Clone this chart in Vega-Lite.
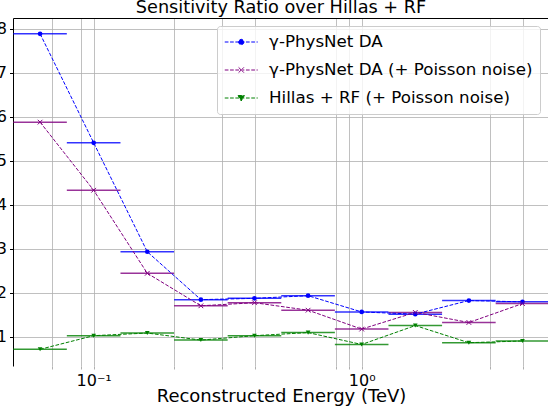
{
  "$schema": "https://vega.github.io/schema/vega-lite/v6.json",
  "width": 536,
  "height": 348,
  "autosize": "none",
  "padding": {"left": 13, "top": 18, "right": 0, "bottom": 44},
  "background": "white",
  "title": {
    "text": "Sensitivity Ratio over Hillas + RF",
    "font": "DejaVu Sans",
    "fontSize": 17.7,
    "fontWeight": "normal",
    "color": "black",
    "anchor": "middle",
    "offset": 1
  },
  "data": {
    "values": [
      {"series": "γ-PhysNet DA", "e": 0.0631, "lo": 0.0501, "hi": 0.0794, "ratio": 7.89},
      {"series": "γ-PhysNet DA", "e": 0.1, "lo": 0.0794, "hi": 0.1259, "ratio": 5.41},
      {"series": "γ-PhysNet DA", "e": 0.1585, "lo": 0.1259, "hi": 0.1995, "ratio": 2.93},
      {"series": "γ-PhysNet DA", "e": 0.2512, "lo": 0.1995, "hi": 0.3162, "ratio": 1.84},
      {"series": "γ-PhysNet DA", "e": 0.3981, "lo": 0.3162, "hi": 0.5012, "ratio": 1.87},
      {"series": "γ-PhysNet DA", "e": 0.631, "lo": 0.5012, "hi": 0.7943, "ratio": 1.93},
      {"series": "γ-PhysNet DA", "e": 1.0, "lo": 0.7943, "hi": 1.2589, "ratio": 1.56},
      {"series": "γ-PhysNet DA", "e": 1.585, "lo": 1.2589, "hi": 1.9953, "ratio": 1.51},
      {"series": "γ-PhysNet DA", "e": 2.512, "lo": 1.9953, "hi": 3.1623, "ratio": 1.82},
      {"series": "γ-PhysNet DA", "e": 3.981, "lo": 3.1623, "hi": 5.0119, "ratio": 1.79},
      {"series": "γ-PhysNet DA (+ Poisson noise)", "e": 0.0631, "lo": 0.0501, "hi": 0.0794, "ratio": 5.88},
      {"series": "γ-PhysNet DA (+ Poisson noise)", "e": 0.1, "lo": 0.0794, "hi": 0.1259, "ratio": 4.33},
      {"series": "γ-PhysNet DA (+ Poisson noise)", "e": 0.1585, "lo": 0.1259, "hi": 0.1995, "ratio": 2.44},
      {"series": "γ-PhysNet DA (+ Poisson noise)", "e": 0.2512, "lo": 0.1995, "hi": 0.3162, "ratio": 1.7},
      {"series": "γ-PhysNet DA (+ Poisson noise)", "e": 0.3981, "lo": 0.3162, "hi": 0.5012, "ratio": 1.77},
      {"series": "γ-PhysNet DA (+ Poisson noise)", "e": 0.631, "lo": 0.5012, "hi": 0.7943, "ratio": 1.6},
      {"series": "γ-PhysNet DA (+ Poisson noise)", "e": 1.0, "lo": 0.7943, "hi": 1.2589, "ratio": 1.17},
      {"series": "γ-PhysNet DA (+ Poisson noise)", "e": 1.585, "lo": 1.2589, "hi": 1.9953, "ratio": 1.55},
      {"series": "γ-PhysNet DA (+ Poisson noise)", "e": 2.512, "lo": 1.9953, "hi": 3.1623, "ratio": 1.32},
      {"series": "γ-PhysNet DA (+ Poisson noise)", "e": 3.981, "lo": 3.1623, "hi": 5.0119, "ratio": 1.75},
      {"series": "Hillas + RF (+ Poisson noise)", "e": 0.0631, "lo": 0.0501, "hi": 0.0794, "ratio": 0.71},
      {"series": "Hillas + RF (+ Poisson noise)", "e": 0.1, "lo": 0.0794, "hi": 0.1259, "ratio": 1.02},
      {"series": "Hillas + RF (+ Poisson noise)", "e": 0.1585, "lo": 0.1259, "hi": 0.1995, "ratio": 1.08},
      {"series": "Hillas + RF (+ Poisson noise)", "e": 0.2512, "lo": 0.1995, "hi": 0.3162, "ratio": 0.92},
      {"series": "Hillas + RF (+ Poisson noise)", "e": 0.3981, "lo": 0.3162, "hi": 0.5012, "ratio": 1.02},
      {"series": "Hillas + RF (+ Poisson noise)", "e": 0.631, "lo": 0.5012, "hi": 0.7943, "ratio": 1.09},
      {"series": "Hillas + RF (+ Poisson noise)", "e": 1.0, "lo": 0.7943, "hi": 1.2589, "ratio": 0.82},
      {"series": "Hillas + RF (+ Poisson noise)", "e": 1.585, "lo": 1.2589, "hi": 1.9953, "ratio": 1.25},
      {"series": "Hillas + RF (+ Poisson noise)", "e": 2.512, "lo": 1.9953, "hi": 3.1623, "ratio": 0.86},
      {"series": "Hillas + RF (+ Poisson noise)", "e": 3.981, "lo": 3.1623, "hi": 5.0119, "ratio": 0.9}
    ]
  },
  "encoding": {
    "y": {
      "field": "ratio",
      "type": "quantitative",
      "scale": {"domain": [0.33, 8.25], "nice": false, "zero": false},
      "axis": {
        "title": null,
        "values": [1, 2, 3, 4, 5, 6, 7, 8],
        "grid": true,
        "gridColor": "#b0b0b0",
        "gridWidth": 0.8,
        "domain": true,
        "domainColor": "black",
        "domainWidth": 1,
        "ticks": true,
        "tickColor": "black",
        "tickSize": 3.5,
        "labelFont": "DejaVu Sans",
        "labelFontSize": 16,
        "labelColor": "black",
        "labelPadding": 3
      }
    },
    "color": {
      "field": "series",
      "type": "nominal",
      "scale": {
        "domain": ["γ-PhysNet DA", "γ-PhysNet DA (+ Poisson noise)", "Hillas + RF (+ Poisson noise)"],
        "range": ["blue", "purple", "green"]
      },
      "legend": {
        "title": null,
        "orient": "none",
        "legendX": 204,
        "legendY": 8,
        "padding": 7,
        "fillColor": "rgba(255,255,255,0.8)",
        "strokeColor": "#cccccc",
        "cornerRadius": 3,
        "labelFont": "DejaVu Sans",
        "labelFontSize": 16.7,
        "labelColor": "black",
        "labelOffset": 27,
        "labelLimit": 400,
        "rowPadding": 10,
        "symbolType": "M-1,0L3,0",
        "symbolSize": 272,
        "symbolDash": [3.7, 1.6],
        "symbolStrokeWidth": 1,
        "symbolOpacity": 1
      }
    }
  },
  "layer": [
    {
      "mark": {"type": "rule", "strokeWidth": 1.5, "opacity": 0.8, "clip": true},
      "encoding": {
        "x": {
          "field": "lo",
          "type": "quantitative",
          "scale": {"type": "log", "domain": [0.05, 5], "nice": false},
          "axis": {
            "orient": "bottom",
            "title": "Reconstructed Energy (TeV)",
            "titleFont": "DejaVu Sans",
            "titleFontSize": 18,
            "titleFontWeight": "normal",
            "titleColor": "black",
            "titlePadding": -1,
            "values": [0.07, 0.09, 0.1, 0.2, 0.3, 0.4, 0.8, 0.9, 1, 3, 4],
            "labelExpr": "datum.value == 0.1 ? '10⁻¹' : datum.value == 1 ? '10⁰' : ''",
            "labelOverlap": false,
            "labelFlush": false,
            "labelFont": "DejaVu Sans",
            "labelFontSize": 16,
            "labelColor": "black",
            "labelPadding": 3,
            "grid": true,
            "gridColor": "#b0b0b0",
            "gridWidth": 0.8,
            "domain": false,
            "ticks": true,
            "tickColor": "#b0b0b0",
            "tickSize": 3
          }
        },
        "x2": {"field": "hi"}
      }
    },
    {
      "mark": {"type": "line", "strokeWidth": 1, "strokeDash": [3.7, 1.6], "clip": true},
      "encoding": {
        "x": {
          "field": "e",
          "type": "quantitative",
          "scale": {"type": "log", "domain": [0.05, 5], "nice": false},
          "axis": {
            "orient": "top",
            "title": null,
            "labels": false,
            "ticks": false,
            "grid": false,
            "domain": true,
            "domainColor": "black",
            "domainWidth": 1
          }
        }
      }
    },
    {
      "encoding": {
        "x": {
          "field": "e",
          "type": "quantitative",
          "scale": {"type": "log", "domain": [0.05, 5], "nice": false},
          "axis": null
        }
      },
      "layer": [
        {
          "transform": [{"filter": "datum.series === 'γ-PhysNet DA'"}],
          "mark": {"type": "point", "shape": "circle", "filled": true, "size": 22, "opacity": 1, "clip": true}
        },
        {
          "transform": [{"filter": "datum.series === 'γ-PhysNet DA (+ Poisson noise)'"}],
          "mark": {"type": "point", "shape": "M-1,-1L1,1M-1,1L1,-1", "filled": false, "size": 22, "strokeWidth": 1, "opacity": 1, "clip": true}
        },
        {
          "transform": [{"filter": "datum.series === 'Hillas + RF (+ Poisson noise)'"}],
          "mark": {"type": "point", "shape": "triangle-down", "filled": true, "size": 22, "opacity": 1, "clip": true}
        },
        {
          "transform": [{"filter": "false"}],
          "mark": {"type": "point", "filled": true, "opacity": 1, "strokeWidth": 1},
          "encoding": {
            "shape": {
              "field": "series",
              "type": "nominal",
              "scale": {
                "domain": ["γ-PhysNet DA", "γ-PhysNet DA (+ Poisson noise)", "Hillas + RF (+ Poisson noise)"],
                "range": [
                  "M-1,0L3,0M1.33,0L1.23,0.23L1,0.33L0.77,0.23L0.67,0L0.77,-0.23L1,-0.33L1.23,-0.23Z",
                  "M-1,0L3,0M0.68,-0.32L1.32,0.32M0.68,0.32L1.32,-0.32",
                  "M-1,0L3,0M0.62,-0.3L1.38,-0.3L1,0.36Z"
                ]
              },
              "legend": {
                "title": null,
                "orient": "none",
                "legendX": 204,
                "legendY": 8,
                "padding": 7,
                "fillColor": "rgba(255,255,255,0.8)",
                "strokeColor": "#cccccc",
                "cornerRadius": 3,
                "labelFont": "DejaVu Sans",
                "labelFontSize": 16.7,
                "labelColor": "black",
                "labelOffset": 27,
                "labelLimit": 400,
                "rowPadding": 10,
                "symbolSize": 272,
                "symbolDash": [3.7, 1.6],
                "symbolStrokeWidth": 1,
                "symbolOpacity": 1
              }
            }
          }
        }
      ]
    }
  ],
  "config": {"view": {"stroke": null}}
}
